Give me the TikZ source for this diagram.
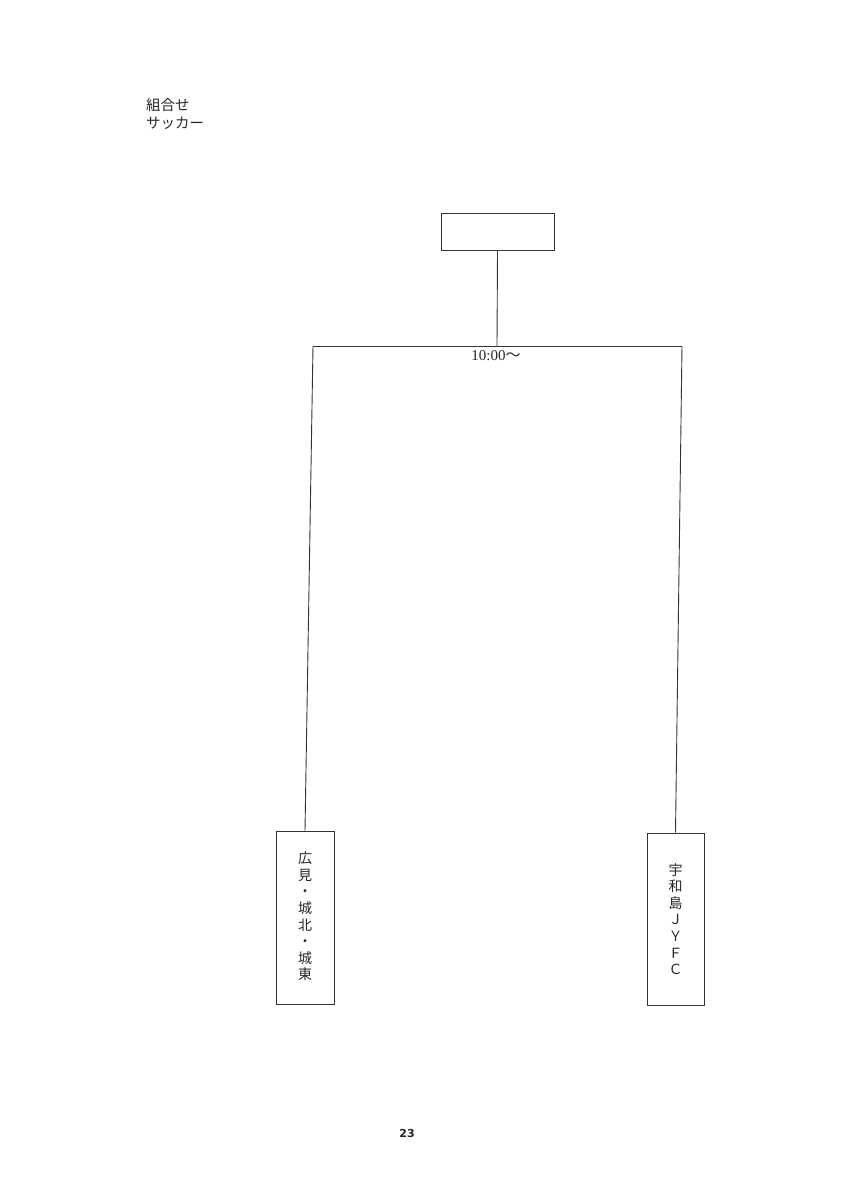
\documentclass[tikz,border=0pt]{standalone}
\usepackage{fontspec}
\newfontfamily\cjk{Noto Sans CJK JP}
\newfontfamily\serifdig{Liberation Serif}
\setmainfont{DejaVu Sans}
\begin{document}
\begin{tikzpicture}[x=1pt,y=-1pt,
  line/.style={draw=black!80,line width=0.9pt},
  box/.style={draw=black!80,line width=0.9pt,inner sep=0pt},
  vtext/.style={font=\cjk\fontsize{14}{16.6}\selectfont,align=center,text=black!85},
  lbl/.style={font=\cjk\fontsize{14.5}{15}\selectfont,text=black!85,inner sep=0pt}]
\useasboundingbox (0,0) rectangle (849,1200);
% heading
\node[lbl,anchor=west] (h1) at (146,105) {組合せ};
\node[lbl,anchor=west] (h2) at (146,123) {サッカー};
% top box
\node[box,minimum width=113pt,minimum height=37pt] (top) at (497.5,231.5) {};
\coordinate (j) at (497,346);
\coordinate (jl) at (313,346);
\coordinate (jr) at (682,346);
\node[inner sep=0pt,text=black!85] (time) at (496,356) {{\serifdig\fontsize{15}{15}\selectfont 10:00}{\cjk\fontsize{15}{15}\selectfont 〜}};
% team boxes
\node[box,minimum width=58pt,minimum height=173pt] (L) at (305,917.5) {};
\node[box,minimum width=57pt,minimum height=172pt] (R) at (675.5,919) {};
\node[vtext] (Lt) at (305,916.5) {広\\見\\・\\城\\北\\・\\城\\東};
\node[vtext] (Rt) at (675.5,919) {宇\\和\\島\\Ｊ\\Ｙ\\Ｆ\\Ｃ};
% connectors
\draw[line] (top.south) -- (j);
\draw[line] (jl) -- (jr);
\draw[line] (jl) -- (L.north);
\draw[line] (jr) -- (R.north);
% page number
\node[font=\fontsize{11}{13}\selectfont\bfseries,text=black!85] (pg) at (407,1133) {23};
\end{tikzpicture}
\end{document}
